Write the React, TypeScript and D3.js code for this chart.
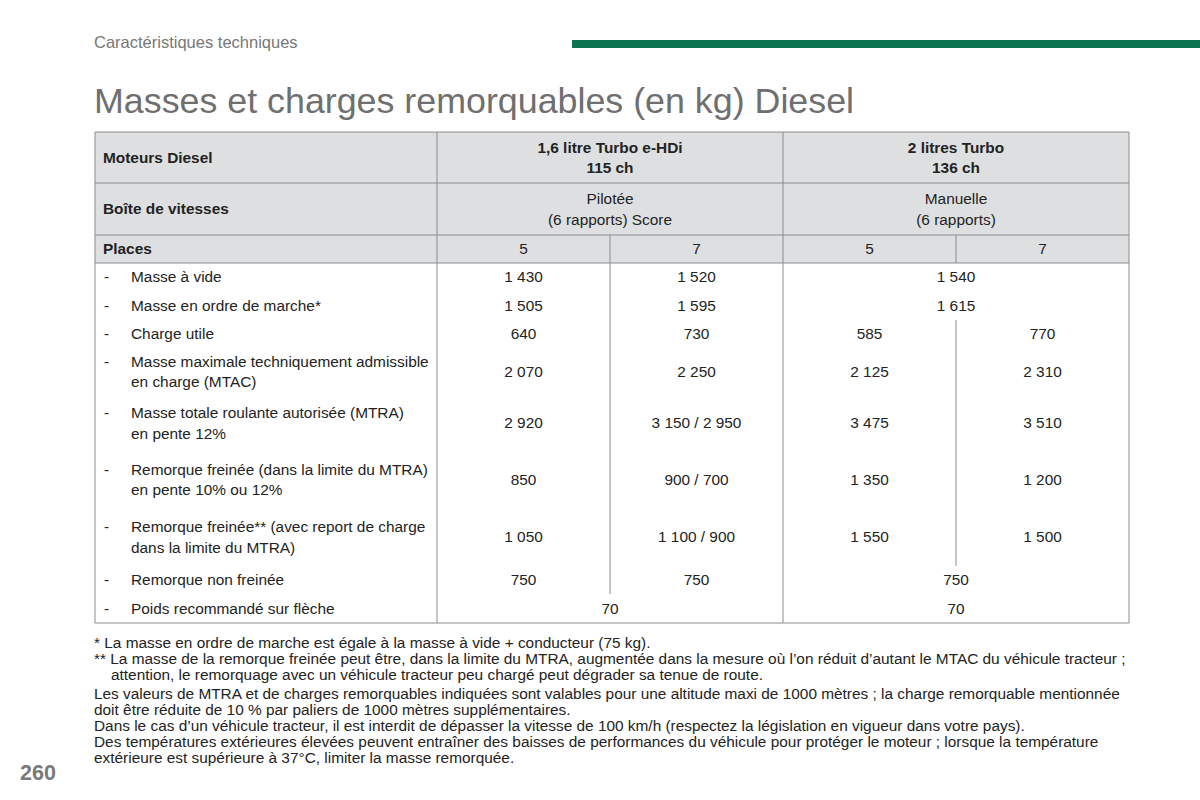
import React from "react";
import * as d3 from "d3";

// ---------- data ----------
const pageSection = "Caractéristiques techniques";
const pageTitle = "Masses et charges remorquables (en kg) Diesel";
const pageNumber = "260";

const headerLabels = ["Moteurs Diesel", "Boîte de vitesses", "Places"];
const engineLines = [
  ["1,6 litre Turbo e-HDi", "115 ch"],
  ["2 litres Turbo", "136 ch"],
];
const gearboxLines = [
  ["Pilotée", "(6 rapports) Score"],
  ["Manuelle", "(6 rapports)"],
];
const places = ["5", "7", "5", "7"];

const rowLabels = [
  ["Masse à vide"],
  ["Masse en ordre de marche*"],
  ["Charge utile"],
  ["Masse maximale techniquement admissible", "en charge (MTAC)"],
  ["Masse totale roulante autorisée (MTRA)", "en pente 12%"],
  ["Remorque freinée (dans la limite du MTRA)", "en pente 10% ou 12%"],
  ["Remorque freinée** (avec report de charge", "dans la limite du MTRA)"],
  ["Remorque non freinée"],
  ["Poids recommandé sur flèche"],
];

// null = value of the "5 places" column spans both columns
const values16_5 = ["1 430", "1 505", "640", "2 070", "2 920", "850", "1 050", "750", "70"];
const values16_7 = ["1 520", "1 595", "730", "2 250", "3 150 / 2 950", "900 / 700", "1 100 / 900", "750", null];
const values20_5 = ["1 540", "1 615", "585", "2 125", "3 475", "1 350", "1 550", "750", "70"];
const values20_7 = [null, null, "770", "2 310", "3 510", "1 200", "1 500", null, null];

const footnotes = [
  { text: "* La masse en ordre de marche est égale à la masse à vide + conducteur (75 kg).", indent: false },
  { text: "** La masse de la remorque freinée peut être, dans la limite du MTRA, augmentée dans la mesure où l’on réduit d’autant le MTAC du véhicule tracteur ;", indent: false },
  { text: "attention, le remorquage avec un véhicule tracteur peu chargé peut dégrader sa tenue de route.", indent: true },
];
const notes = [
  "Les valeurs de MTRA et de charges remorquables indiquées sont valables pour une altitude maxi de 1000 mètres ; la charge remorquable mentionnée",
  "doit être réduite de 10 % par paliers de 1000 mètres supplémentaires.",
  "Dans le cas d’un véhicule tracteur, il est interdit de dépasser la vitesse de 100 km/h (respectez la législation en vigueur dans votre pays).",
  "Des températures extérieures élevées peuvent entraîner des baisses de performances du véhicule pour protéger le moteur ; lorsque la température",
  "extérieure est supérieure à 37°C, limiter la masse remorquée.",
];

// ---------- layout ----------
const W = 1200;
const H = 800;
const FONT = "'Liberation Sans', Arial, Helvetica, sans-serif";
const TEXT = "#232323";
const GRID = "#8c8c8c";
const HEAD_FILL = "#dedfe1";

const tableLeft = 95;
const labelRight = 437;
const tableRight = 1129;
const tableTop = 132;
const headHeights = [51, 52, 28];
const bodyHeights = [28, 29, 28, 47, 56, 57, 58, 28, 29];

export default function App() {
  const colKeys = ["a5", "a7", "b5", "b7"];
  const x = d3.scaleBand<string>().domain(colKeys).range([labelRight, tableRight]).paddingInner(0).paddingOuter(0);
  const bw = x.bandwidth();
  const groupCenter = [x("a5")! + bw, x("b5")! + bw];

  const headTops = [tableTop, ...d3.cumsum(headHeights).map((c) => tableTop + c)];
  const bodyTop = headTops[3];
  const bodyTops = [bodyTop, ...d3.cumsum(bodyHeights).map((c) => bodyTop + c)];
  const tableBottom = bodyTops[bodyTops.length - 1];

  const rowY = d3.scaleOrdinal<number, number>()
    .domain(d3.range(rowLabels.length))
    .range(bodyHeights.map((h, i) => bodyTops[i] + h / 2));

  const fs = 15.4;
  const lineGap = 20.5;
  const base = (cy: number, size: number) => cy + size * 0.35;

  const multi = (lines: string[], cx: number, cy: number, anchor: string, weight: any, key: string, size = fs) =>
    lines.map((ln, i) => (
      <text
        key={key + i}
        x={cx}
        y={base(cy + (i - (lines.length - 1) / 2) * lineGap, size)}
        textAnchor={anchor as any}
        fontWeight={weight}
        fontSize={size}
        fill={TEXT}
      >
        {ln}
      </text>
    ));

  // column sub-divider segments (rows where the 7-seat value exists)
  const segs = (vals: (string | null)[]) => {
    const idx = vals.map((v, i) => (v !== null ? i : -1)).filter((i) => i >= 0);
    if (!idx.length) return null;
    return [bodyTops[idx[0]], bodyTops[idx[idx.length - 1] + 1]];
  };
  const segA = segs(values16_7);
  const segB = segs(values20_7);

  const groups = [
    { v5: values16_5, v7: values16_7, k5: "a5", k7: "a7", center: groupCenter[0] },
    { v5: values20_5, v7: values20_7, k5: "b5", k7: "b7", center: groupCenter[1] },
  ];

  const noteFs = 15.4;
  const footY0 = 648;
  const footStep = 16.2;

  return (
    <svg
      width={W}
      height={H}
      viewBox={`0 0 ${W} ${H}`}
      style={{ position: "absolute", left: 0, top: 0, background: "#fff" }}
      fontFamily={FONT}
    >
      <rect x={0} y={0} width={W} height={H} fill="#fff" />
      {/* page header */}
      <text x={94} y={48} fontSize={16.5} fill="#777">{pageSection}</text>
      <rect x={572} y={40} width={W - 572} height={8} fill="#0b7350" />
      <text x={94} y={113} fontSize={35.8} fill="#6f6f6f">{pageTitle}</text>

      {/* header background */}
      <rect x={tableLeft} y={tableTop} width={tableRight - tableLeft} height={bodyTop - tableTop} fill={HEAD_FILL} />

      {/* header grid lines */}
      {headTops.slice(1).map((y, i) => (
        <line key={"hl" + i} x1={tableLeft} x2={tableRight} y1={y} y2={y} stroke={GRID} strokeWidth={1} />
      ))}
      <line x1={groupCenter[0]} x2={groupCenter[0]} y1={headTops[2]} y2={bodyTop} stroke={GRID} />
      <line x1={groupCenter[1]} x2={groupCenter[1]} y1={headTops[2]} y2={bodyTop} stroke={GRID} />

      {/* vertical borders */}
      {[tableLeft, labelRight, x("b5")!, tableRight].map((xx, i) => (
        <line key={"v" + i} x1={xx} x2={xx} y1={tableTop} y2={tableBottom} stroke={GRID} strokeWidth={1} />
      ))}
      <line x1={tableLeft} x2={tableRight} y1={tableTop} y2={tableTop} stroke={GRID} />
      <line x1={tableLeft} x2={tableRight} y1={tableBottom} y2={tableBottom} stroke={GRID} />

      {/* sub-dividers in body */}
      {segA && <line x1={groupCenter[0]} x2={groupCenter[0]} y1={segA[0]} y2={segA[1]} stroke={GRID} />}
      {segB && <line x1={groupCenter[1]} x2={groupCenter[1]} y1={segB[0]} y2={segB[1]} stroke={GRID} />}

      {/* header labels */}
      {headerLabels.map((lab, i) =>
        multi([lab], 103, (headTops[i] + headTops[i + 1]) / 2, "start", "bold", "hlab" + i)
      )}
      {engineLines.map((lines, g) =>
        multi(lines, groupCenter[g], (headTops[0] + headTops[1]) / 2, "middle", "bold", "eng" + g)
      )}
      {gearboxLines.map((lines, g) =>
        multi(lines, groupCenter[g], (headTops[1] + headTops[2]) / 2, "middle", "normal", "gb" + g)
      )}
      {places.map((p, i) =>
        multi([p], x(colKeys[i])! + bw / 2, (headTops[2] + headTops[3]) / 2, "middle", "normal", "pl" + i)
      )}

      {/* body labels */}
      {rowLabels.map((lines, r) => (
        <g key={"row" + r}>
          <text
            x={104}
            y={base(rowY(r) - ((lines.length - 1) / 2) * lineGap, fs)}
            fontSize={fs}
            fill={TEXT}
          >
            -
          </text>
          {multi(lines, 131, rowY(r), "start", "normal", "lab" + r)}
        </g>
      ))}

      {/* body values */}
      {groups.map((g, gi) =>
        rowLabels.map((_, r) => {
          const v7 = g.v7[r];
          if (v7 === null) {
            return multi([g.v5[r]], g.center, rowY(r), "middle", "normal", `v${gi}-${r}`);
          }
          return (
            <g key={`vg${gi}-${r}`}>
              {multi([g.v5[r]], x(g.k5)! + bw / 2, rowY(r), "middle", "normal", `v5${gi}-${r}`)}
              {multi([v7], x(g.k7)! + bw / 2, rowY(r), "middle", "normal", `v7${gi}-${r}`)}
            </g>
          );
        })
      )}

      {/* footnotes */}
      {footnotes.map((f, i) => (
        <text key={"fn" + i} x={f.indent ? 111 : 94} y={footY0 + i * footStep} fontSize={noteFs} fill={TEXT}>
          {f.text}
        </text>
      ))}
      {notes.map((n, i) => (
        <text
          key={"nt" + i}
          x={94}
          y={footY0 + footnotes.length * footStep + 2 + i * footStep}
          fontSize={noteFs}
          fill={TEXT}
        >
          {n}
        </text>
      ))}

      {/* page number */}
      <text x={20} y={780} fontSize={21.5} fontWeight="bold" fill="#7a7a7a">{pageNumber}</text>
    </svg>
  );
}
